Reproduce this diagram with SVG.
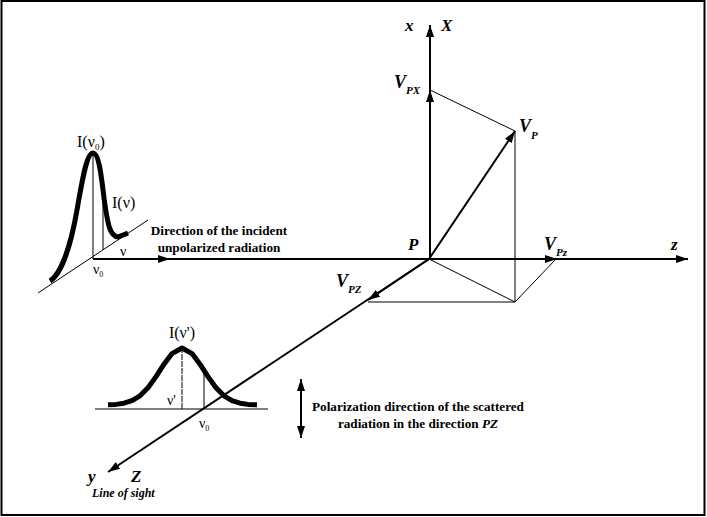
<svg xmlns="http://www.w3.org/2000/svg" width="707" height="517" viewBox="0 0 707 517">
<defs>
<marker id="ah" markerUnits="userSpaceOnUse" markerWidth="13" markerHeight="9" refX="12" refY="4" orient="auto-start-reverse">
<path d="M0,0 L12,4 L0,8 Z" fill="#000"/>
</marker>
<style>
.ax{stroke:#000;stroke-width:2;fill:none}
.th{stroke:#000;stroke-width:1;fill:none}
.curve{stroke:#000;stroke-width:5;fill:none;stroke-linecap:butt;stroke-linejoin:round}
.lbl{font-family:"Liberation Serif",serif;font-weight:bold;font-style:italic;fill:#000}
.sym{font-family:"Liberation Serif",serif;fill:#000}
.cap{font-family:"Liberation Serif",serif;font-weight:bold;font-size:13.2px;fill:#000}
</style>
</defs>
<rect x="1.5" y="1" width="703" height="514" fill="#fff" stroke="#000" stroke-width="2"/>

<g id="connectors">
<line class="ax" x1="430" y1="259" x2="430" y2="25" stroke-width="2.5" marker-end="url(#ah)"/>
<line class="ax" x1="430" y1="120" x2="430" y2="90" stroke-width="2.5" marker-end="url(#ah)"/>
<line class="ax" x1="93" y1="259" x2="688" y2="259" marker-end="url(#ah)"/>
<line class="ax" x1="430" y1="259" x2="688" y2="259" stroke-width="2.5"/>
<line class="ax" x1="93" y1="259" x2="170" y2="259" marker-end="url(#ah)"/>
<line class="ax" x1="430" y1="259" x2="557" y2="259" stroke-width="2.5" marker-end="url(#ah)"/>
<line class="ax" x1="429" y1="259" x2="108" y2="472" stroke-width="1.6" marker-end="url(#ah)"/>
<line class="ax" x1="429" y1="259" x2="368" y2="300" stroke-width="1.6" marker-end="url(#ah)"/>
<line class="ax" x1="429" y1="259" x2="515" y2="131" stroke-width="3.5" marker-end="url(#ah)"/>
<line class="th" x1="430" y1="90" x2="515" y2="131"/>
<line class="th" x1="515" y1="131" x2="515" y2="302"/>
<line class="th" x1="429" y1="259" x2="515" y2="302"/>
<line class="th" x1="515" y1="302" x2="556" y2="259"/>
<line class="th" x1="368" y1="302" x2="515" y2="302"/>
<line class="ax" x1="301" y1="379" x2="301" y2="438" stroke-width="1.3" marker-start="url(#ah)" marker-end="url(#ah)"/>
</g>

<g id="incident-profile">
<line class="th" x1="38" y1="293" x2="148" y2="220" stroke-width="1.5"/>
<line class="th" x1="93" y1="259" x2="93" y2="155" stroke-width="1.5"/>
<line class="th" x1="103" y1="250" x2="103" y2="196" stroke-width="1.5"/>
<path class="curve" d="M50,281 C60,275 70,250 77,210 C83,175 87,153 93,153 C100,153 102,185 105,205 C108,225 110,236 118,237 L128,233"/>
<text class="sym" x="77" y="147" font-size="16">I(ν<tspan font-size="9" dy="3">0</tspan><tspan dy="-3">)</tspan></text>
<text class="sym" x="112" y="208" font-size="16">I(ν)</text>
<text class="sym" x="120" y="256" font-size="14">ν</text>
<text class="sym" x="93" y="274" font-size="14">ν<tspan font-size="8" dy="3">0</tspan></text>
<text class="cap" x="219" y="235" text-anchor="middle">Direction of the incident</text>
<text class="cap" x="219" y="252" text-anchor="middle">unpolarized radiation</text>
</g>

<g id="scattered-profile">
<line class="th" x1="95" y1="409" x2="268" y2="409" stroke-width="1.5"/>
<line class="th" x1="182" y1="409" x2="182" y2="349" stroke-dasharray="6,1"/>
<line class="th" x1="204" y1="409" x2="204" y2="371" stroke-width="2"/>
<polyline class="curve" stroke-width="6" points="108,404.8 116,404.4 124,403.2 132,400.7 140,395.8 148,387.7 156,376.6 164,364.2 172,353.6 182,348 192,353.6 200,364.2 208,376.6 216,387.7 224,395.8 232,400.7 240,403.2 248,404.4 257,404.8"/>
<text class="sym" x="182" y="338" font-size="16" text-anchor="middle">I(ν')</text>
<text class="sym" x="167" y="405" font-size="14">ν'</text>
<text class="sym" x="199" y="428" font-size="14">ν<tspan font-size="8" dy="3">0</tspan></text>
<text class="cap" x="418" y="411" text-anchor="middle">Polarization direction of the scattered</text>
<text class="cap" x="418" y="428" text-anchor="middle">radiation in the direction <tspan font-style="italic">PZ</tspan></text>
</g>

<g id="labels">
<text class="lbl" x="405" y="31" font-size="17">x</text>
<text class="lbl" x="441" y="31" font-size="17">X</text>
<text class="lbl" x="394" y="88" font-size="18">V<tspan font-size="11" dy="6">PX</tspan></text>
<text class="lbl" x="519" y="132" font-size="18">V<tspan font-size="11" dy="7">P</tspan></text>
<text class="lbl" x="408" y="250" font-size="17">P</text>
<text class="lbl" x="544" y="250" font-size="18">V<tspan font-size="11" dy="6">Pz</tspan></text>
<text class="lbl" x="671" y="250" font-size="17">z</text>
<text class="lbl" x="336" y="287" font-size="18">V<tspan font-size="11" dy="6">PZ</tspan></text>
<text class="lbl" x="88" y="482" font-size="17">y</text>
<text class="lbl" x="131" y="482" font-size="17">Z</text>
<text class="lbl" x="92" y="497" font-size="12">Line of sight</text>
</g>
</svg>
